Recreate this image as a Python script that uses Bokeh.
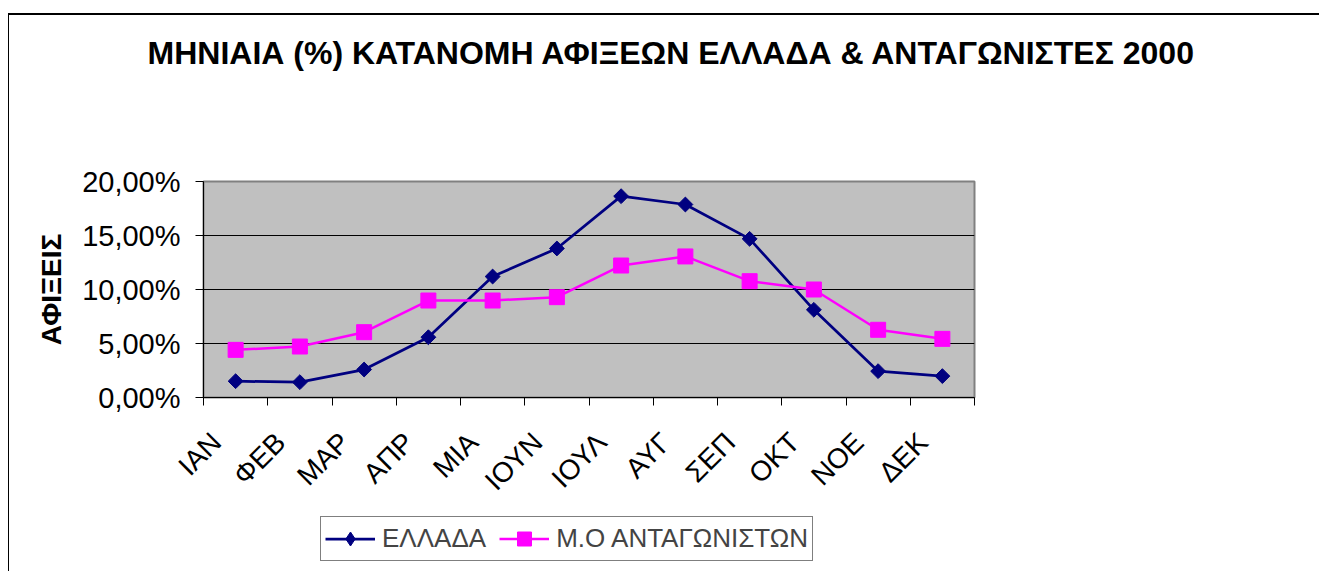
import math
from bokeh.plotting import figure
from bokeh.layouts import column
from bokeh.models import (FactorRange, Range1d, LinearAxis, FixedTicker,
                          Legend, LegendItem, Grid)
from bokeh.embed import file_html
from bokeh.resources import INLINE

# ---- data ----
months = ["ΙΑΝ", "ΦΕΒ", "ΜΑΡ", "ΑΠΡ", "ΜΙΑ", "ΙΟΥΝ", "ΙΟΥΛ", "ΑΥΓ", "ΣΕΠ", "ΟΚΤ", "ΝΟΕ", "ΔΕΚ"]
greece = [1.51, 1.42, 2.59, 5.58, 11.20, 13.80, 18.64, 17.87, 14.69, 8.12, 2.44, 1.98]
competitors = [4.41, 4.72, 6.05, 8.98, 8.98, 9.29, 12.22, 13.06, 10.77, 10.00, 6.27, 5.43]
series_names = ["ΕΛΛΑΔΑ", "Μ.Ο ΑΝΤΑΓΩΝΙΣΤΩΝ"]
y_ticks = [0, 5, 10, 15, 20]
y_tick_labels = ["0,00%", "5,00%", "10,00%", "15,00%", "20,00%"]
title_text = "ΜΗΝΙΑΙΑ (%) ΚΑΤΑΝΟΜΗ ΑΦΙΞΕΩΝ ΕΛΛΑΔΑ & ΑΝΤΑΓΩΝΙΣΤΕΣ 2000"
y_label = "ΑΦΙΞΕΙΣ"

FONT = "Liberation Sans"
NAVY = "#000080"
MAGENTA = "#FF00FF"
LABEL_SHIFT = 0.30   # category label anchor shift (in category widths), style only
W = 1310


def add_series(fig, greece_marker="square", greece_angle=math.pi / 4):
    a = fig.line(months, greece, line_color=NAVY, line_width=2.75)
    b = fig.scatter(months, greece, marker=greece_marker, angle=greece_angle, size=10.5,
                    fill_color=NAVY, line_color=NAVY)
    c = fig.line(months, competitors, line_color=MAGENTA, line_width=2.5)
    d = fig.scatter(months, competitors, marker="square", size=15,
                    fill_color=MAGENTA, line_color=MAGENTA)
    return a, b, c, d


# ---- title strip ----
tf = figure(width=W, height=146, x_range=Range1d(0, 1), y_range=Range1d(0, 1),
            x_axis_type=None, y_axis_type=None, output_backend="svg",
            toolbar_location=None, min_border=0)
tf.outline_line_color = None
tf.background_fill_color = "white"
tf.border_fill_color = "white"
tf.title.text = title_text
tf.title.align = "left"
tf.title.vertical_align = "top"
tf.title.offset = -56
tf.title.standoff = 38
tf.title.text_font = FONT
tf.title.text_font_style = "bold"
tf.title.text_font_size = "32px"
tf.title.text_color = "black"

# ---- main chart ----
p = figure(frame_width=771, frame_height=216,
           x_range=FactorRange(*months), y_range=Range1d(0, 20),
           x_axis_type=None, y_axis_type=None,
           output_backend="svg", toolbar_location=None,
           min_border_left=194, min_border_right=345,
           min_border_top=20, min_border_bottom=113)
p.background_fill_color = "#C0C0C0"
p.border_fill_color = "white"
p.outline_line_color = "#808080"
p.outline_line_width = 2

yaxis = LinearAxis(ticker=FixedTicker(ticks=y_ticks),
                   major_label_overrides=dict(zip(y_ticks, y_tick_labels)),
                   axis_label=y_label, axis_label_text_font=FONT,
                   axis_label_text_font_style="bold", axis_label_text_font_size="28px",
                   axis_label_text_color="black", axis_label_standoff=12,
                   major_label_text_font=FONT, major_label_text_font_size="29px",
                   major_label_text_color="black",
                   major_label_standoff=15, major_tick_out=8, major_tick_in=0,
                   minor_tick_line_color=None, axis_line_color="black",
                   major_tick_line_color="black")
p.add_layout(yaxis, "left")
p.add_layout(Grid(dimension=1, ticker=FixedTicker(ticks=y_ticks[1:-1]),
                  grid_line_color="black", grid_line_width=1))

n = len(months)
label_pos = [i + 0.5 - LABEL_SHIFT for i in range(n)]
xaxis = LinearAxis(ticker=FixedTicker(ticks=label_pos, minor_ticks=list(range(n + 1))),
                   major_label_overrides=dict(zip(label_pos, months)),
                   major_label_orientation=math.pi / 4,
                   major_label_text_font=FONT, major_label_text_font_size="28px",
                   major_label_text_color="black", major_label_standoff=32,
                   major_tick_line_color=None, major_tick_out=8, major_tick_in=0,
                   minor_tick_line_color="black", minor_tick_out=8, minor_tick_in=0,
                   axis_line_color="black")
p.add_layout(xaxis, "below")

add_series(p)

# ---- legend strip (series drawn out of view, only their legend keys show) ----
lf = figure(width=W, height=61, x_range=FactorRange(*months), y_range=Range1d(-100, -99),
            x_axis_type=None, y_axis_type=None, output_backend="svg",
            toolbar_location=None, min_border=0)
lf.outline_line_color = None
lf.background_fill_color = "white"
lf.border_fill_color = "white"
kl1, km1, kl2, km2 = add_series(lf, greece_marker="diamond", greece_angle=0)
legend = Legend(items=[LegendItem(label=series_names[0], renderers=[kl1, km1]),
                       LegendItem(label=series_names[1], renderers=[kl2, km2])],
                orientation="horizontal", location=(117, 10),
                glyph_width=50, glyph_height=35, label_standoff=7, spacing=13,
                padding=4, margin=0, border_line_color="black", border_line_width=1,
                label_text_font=FONT, label_text_font_size="26px",
                background_fill_color="white", background_fill_alpha=1)
lf.add_layout(legend, "center")

layout = column(tf, p, lf, spacing=0,
                styles={"margin-top": "13px", "margin-left": "8px",
                        "border-top": "2px solid #000", "border-left": "1px solid #000"})

open("out.html", "w").write(file_html(layout, INLINE))
